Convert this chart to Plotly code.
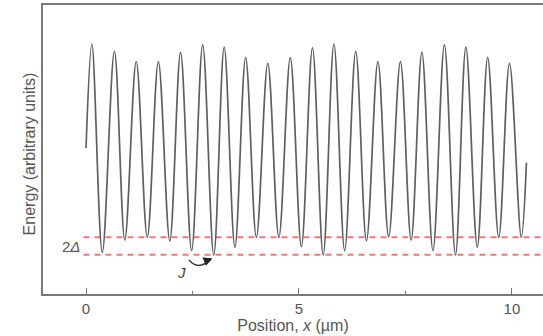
import plotly.graph_objects as go

# Positions (µm) of the curve's start, alternating maxima/minima, and end
position_um = [0.0, 0.138, 0.382, 0.667, 0.911, 1.179, 1.439, 1.699, 1.967, 2.220,
               2.480, 2.740, 3.000, 3.244, 3.496, 3.748, 4.000, 4.268, 4.528, 4.797,
               5.057, 5.317, 5.569, 5.821, 6.073, 6.333, 6.585, 6.854, 7.106, 7.382,
               7.634, 7.886, 8.146, 8.415, 8.675, 8.919, 9.187, 9.431, 9.691, 9.943,
               10.220, 10.341]
# Energy (arbitrary units) at those positions
energy = [5.05, 8.65, 1.44, 8.40, 1.87, 8.04, 1.96, 8.04, 1.84, 8.36,
          1.50, 8.62, 1.35, 8.54, 1.62, 8.19, 1.96, 7.98, 1.96, 8.18,
          1.64, 8.52, 1.35, 8.65, 1.50, 8.40, 1.84, 8.04, 1.98, 8.04,
          1.87, 8.36, 1.50, 8.62, 1.35, 8.54, 1.62, 8.19, 1.96, 7.98,
          1.96, 4.54]

gap_levels = [1.36, 1.96]   # dashed reference levels (2Δ)
x_ticks = [0, 5, 10]
x_tick_labels = ["0", "5", "10"]

FONT = "Liberation Sans, Arial, sans-serif"
GREY = "#555555"

fig = go.Figure()
fig.add_trace(go.Scatter(
    x=position_um, y=energy, mode="lines",
    line=dict(color="#5f5f5f", width=1.7, shape="spline", smoothing=1.0),
    hoverinfo="skip", showlegend=False))

for lvl in gap_levels:
    fig.add_shape(type="line", xref="x", yref="y", x0=-0.06, x1=10.8, y0=lvl, y1=lvl,
                  line=dict(color="#f07878", width=2, dash="6px,5px"), layer="below")

# curved arrow for J
fig.add_shape(type="path", xref="x", yref="y",
              path="M 2.42,1.18 Q 2.62,0.80 2.92,1.18",
              line=dict(color="#333333", width=1.5))
fig.add_annotation(x=2.97, y=1.24, xref="x", yref="y", ax=-7, ay=3,
                   text="", showarrow=True, arrowhead=2, arrowsize=1.2,
                   arrowwidth=1.5, arrowcolor="#222222")
fig.add_annotation(x=2.24, y=0.74, xref="x", yref="y", text="<i>J</i>",
                   showarrow=False, font=dict(family=FONT, size=15, color="#444444"))
fig.add_annotation(x=-0.10, y=1.66, xref="x", yref="y", text="2<i>Δ</i>",
                   xanchor="right", showarrow=False,
                   font=dict(family=FONT, size=15, color=GREY))
# y-axis title placed as annotation for precise position
fig.add_annotation(x=-0.028, y=0.483, xref="x domain", yref="y domain",
                   xanchor="center", yanchor="middle",
                   text="Energy (arbitrary units)", textangle=-90,
                   showarrow=False, font=dict(family=FONT, size=16, color=GREY))

fig.update_layout(
    width=543, height=336,
    margin=dict(l=43, r=0, t=5, b=42),
    paper_bgcolor="white", plot_bgcolor="white",
    font=dict(family=FONT, size=15, color=GREY),
    xaxis=dict(range=[-1.01, 10.73], showgrid=False, zeroline=False,
               showline=True, linecolor="#7a7a7a", linewidth=1.6, mirror=True,
               tickvals=x_ticks, ticktext=x_tick_labels,
               ticks="inside", ticklen=6, tickcolor="#7a7a7a", tickwidth=1.2,
               minor=dict(ticks="inside", ticklen=3, tick0=0, dtick=2.5,
                          tickcolor="#7a7a7a", tickwidth=1.2),
               tickfont=dict(family=FONT, size=15, color=GREY),
               title=dict(text="Position, <i>x</i> (µm)", standoff=1,
                          font=dict(family=FONT, size=16, color=GREY))),
    yaxis=dict(range=[0, 10], showgrid=False, zeroline=False,
               showline=True, linecolor="#7a7a7a", linewidth=1.6, mirror=False,
               showticklabels=False, ticks=""),
)

fig.write_html("out.html")
